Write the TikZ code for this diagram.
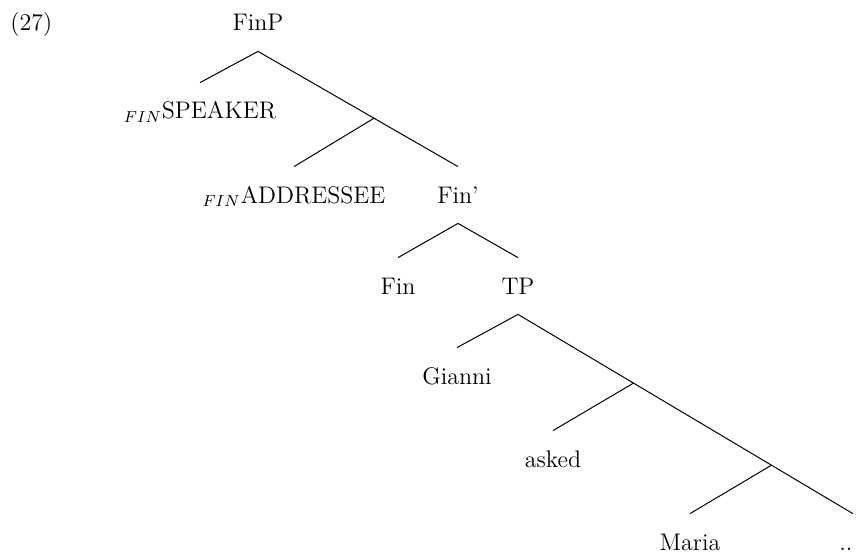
\documentclass[tikz,border=0pt]{standalone}
\usepackage{amsmath,amssymb}
\usepackage{xcolor}
\usepackage{tikz}
\usetikzlibrary{positioning,calc}

\tikzset{
    lbl/.style={anchor=base, inner xsep=1pt, inner ysep=8pt, text height=10pt, text depth=2pt, font=\fontsize{12}{14}\selectfont},
    branch/.style={line width=0.5pt}
}

\begin{document}
\begin{tikzpicture}[x=0.5pt, y=-0.5pt]
    \useasboundingbox (0,0) rectangle (858,557);
    \node[lbl, anchor=base west] (ex) at (8,31) {(27)};
    \node[lbl] (finp) at (258,31) {FinP};
    \node[lbl] (spk) at (200,119) {$_{FIN}$SPEAKER};
    \node[lbl] (adr) at (294,203) {$_{FIN}$ADDRESSEE};
    \node[lbl] (finbar) at (458,203) {Fin'};
    \node[lbl] (fin) at (398,294) {Fin};
    \node[lbl] (tp) at (518,294) {TP};
    \node[lbl] (gianni) at (457,384) {Gianni};
    \node[lbl] (asked) at (553,467) {asked};
    \node[lbl] (maria) at (690,550) {Maria};
    \node[lbl, anchor=base west, inner xsep=0pt] (dots) at (839,550) {..};
    % FinP
    \draw[branch] (finp.south) -- (spk.north);
    \draw[branch] (finp.south) -- (finbar.north);
    \coordinate (j1) at ($(finp.south)!0.58!(finbar.north)$);
    \draw[branch] (j1) -- (adr.north);
    % Fin'
    \draw[branch] (finbar.south) -- (fin.north);
    \draw[branch] (finbar.south) -- (tp.north);
    % TP
    \draw[branch] (tp.south) -- (gianni.north);
    \draw[branch] (tp.south) -- (dots.north east);
    \coordinate (j2) at ($(tp.south)!0.345!(dots.north east)$);
    \coordinate (j3) at ($(tp.south)!0.757!(dots.north east)$);
    \draw[branch] (j2) -- (asked.north);
    \draw[branch] (j3) -- (maria.north);
\end{tikzpicture}
\end{document}
